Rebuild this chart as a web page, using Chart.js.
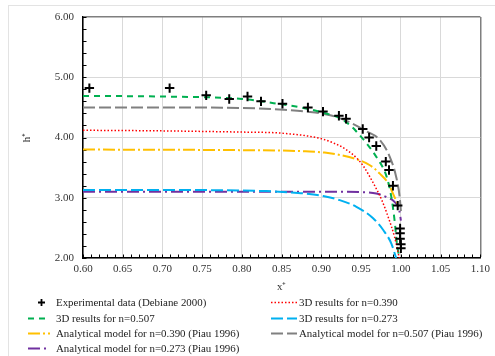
<!DOCTYPE html>
<html>
<head>
<meta charset="utf-8">
<script src="https://cdn.jsdelivr.net/npm/chart.js@4.4.0/dist/chart.umd.min.js"></script>
<style>
  html, body { margin: 0; padding: 0; background: #fff; }
  #wrap { position: relative; width: 495px; height: 356px; overflow: hidden; font-family: "Liberation Serif", "Times New Roman", serif; }
  #frame { position: absolute; left: 8px; top: 5px; width: 540px; height: 420px; border: 1.5px solid #e3e3e3; box-sizing: border-box; }
  #chart { position: absolute; left: 0; top: 0; }
  .item { position: absolute; height: 14px; font-size: 10.9px; line-height: 14px; white-space: nowrap; color: #222; }
  .item canvas { position: absolute; left: 0; top: 0; }
  .item span { position: absolute; top: 0; }
</style>
</head>
<body>
<div id="wrap">
  <div id="frame"></div>
  <canvas id="chart" width="495" height="356"></canvas>
  <div id="legend"></div>
</div>
<script>
// ========================================
// DATA
// ========================================

const xTicks = [0.60, 0.65, 0.70, 0.75, 0.80, 0.85, 0.90, 0.95, 1.00, 1.05, 1.10];
const yTicks = [2.00, 3.00, 4.00, 5.00, 6.00];

// Experimental data (Debiane 2000)
const expX = [0.608, 0.709, 0.755, 0.784, 0.807, 0.824, 0.851, 0.883, 0.902, 0.922, 0.931, 0.952, 0.960, 0.969, 0.981, 0.985, 0.990, 0.996, 0.999, 0.999, 0.999, 1.000, 1.000];
const expH = [4.82, 4.82, 4.70, 4.64, 4.68, 4.60, 4.56, 4.50, 4.43, 4.36, 4.31, 4.14, 4.00, 3.86, 3.60, 3.46, 3.20, 2.87, 2.49, 2.41, 2.32, 2.23, 2.16];

// 3D results n=0.390
const red3dX = [0.60, 0.70, 0.80, 0.84, 0.86, 0.88, 0.90, 0.915, 0.93, 0.945, 0.953, 0.965, 0.976, 0.984, 0.992, 0.998];
const red3dH = [4.12, 4.11, 4.09, 4.08, 4.06, 4.03, 3.98, 3.91, 3.81, 3.65, 3.52, 3.25, 2.96, 2.68, 2.35, 2.00];

// 3D results n=0.507
const green3dX = [0.60, 0.70, 0.80, 0.84, 0.87, 0.90, 0.923, 0.938, 0.946, 0.957, 0.969, 0.982, 0.988, 0.992, 0.995, 0.998];
const green3dH = [4.69, 4.68, 4.64, 4.57, 4.51, 4.42, 4.32, 4.18, 4.07, 3.90, 3.68, 3.35, 3.01, 2.63, 2.24, 2.00];

// 3D results n=0.273
const blue3dX = [0.60, 0.70, 0.80, 0.83, 0.86, 0.88, 0.902, 0.923, 0.944, 0.965, 0.978, 0.988, 0.994];
const blue3dH = [3.13, 3.13, 3.12, 3.11, 3.09, 3.07, 3.03, 2.96, 2.85, 2.66, 2.46, 2.24, 2.00];

// Analytical model n=0.390 (Piau 1996)
const yellowAnX = [0.60, 0.80, 0.86, 0.88, 0.904, 0.923, 0.944, 0.961, 0.9735, 0.984, 0.992, 0.996];
const yellowAnH = [3.80, 3.79, 3.78, 3.77, 3.75, 3.71, 3.64, 3.54, 3.40, 3.24, 3.01, 2.90];

// Analytical model n=0.507 (Piau 1996)
const grayAnX = [0.60, 0.70, 0.80, 0.852, 0.881, 0.911, 0.936, 0.957, 0.9735, 0.986, 0.994, 0.9985, 1.000];
const grayAnH = [4.50, 4.50, 4.49, 4.46, 4.43, 4.37, 4.25, 4.10, 3.96, 3.68, 3.35, 3.01, 2.78];

// Analytical model n=0.273 (Piau 1996)
const purpleAnX = [0.60, 0.80, 0.90, 0.93, 0.955, 0.969, 0.982, 0.992, 0.998, 1.000];
const purpleAnH = [3.10, 3.10, 3.10, 3.10, 3.09, 3.07, 3.01, 2.93, 2.79, 2.62];

const seriesLabels = [
    'Experimental data (Debiane 2000)',
    '3D results for n=0.390',
    '3D results for n=0.507',
    '3D results for n=0.273',
    'Analytical model for n=0.390 (Piau 1996)',
    'Analytical model for n=0.507 (Piau 1996)',
    'Analytical model for n=0.273 (Piau 1996)'
];

const toPoints = (xs, ys) => xs.map((x, i) => ({ x, y: ys[i] }));

// ========================================
// DATASETS
// ========================================

const lineSet = (label, xs, ys, color, dash, width) => ({
    label,
    data: toPoints(xs, ys),
    showLine: true,
    borderColor: color,
    backgroundColor: color,
    borderWidth: width,
    borderDash: dash,
    pointRadius: 0,
    cubicInterpolationMode: 'monotone',
    fill: false
});

const datasets = [
    {
        label: seriesLabels[0],
        data: toPoints(expX, expH),
        showLine: false,
        pointStyle: 'cross',
        pointRadius: 4.7,
        borderColor: '#000',
        backgroundColor: '#000',
        pointBorderWidth: 2,
        order: 0
    },
    lineSet(seriesLabels[1], red3dX, red3dH, '#ff0000', [1.5, 2], 1.5),
    lineSet(seriesLabels[2], green3dX, green3dH, '#00b050', [6, 5], 2),
    lineSet(seriesLabels[3], blue3dX, blue3dH, '#00b0f0', [12, 4], 2),
    lineSet(seriesLabels[4], yellowAnX, yellowAnH, '#ffc000', [12, 3, 2, 3], 2),
    lineSet(seriesLabels[5], grayAnX, grayAnH, '#808080', [12, 4], 2),
    lineSet(seriesLabels[6], purpleAnX, purpleAnH, '#7030a0', [12, 4, 2, 4], 2)
];

// ========================================
// MINOR TICKS PLUGIN
// ========================================

const minorTicks = {
    id: 'minorTicks',
    beforeDatasetsDraw(chart) {
        const { ctx, chartArea, scales: { x, y } } = chart;
        ctx.save();
        ctx.strokeStyle = '#000';
        ctx.lineWidth = 1;
        for (let i = 60; i <= 110; i++) {
            const px = Math.round(x.getPixelForValue(i / 100)) + 0.5;
            ctx.beginPath();
            ctx.moveTo(px, chartArea.bottom);
            ctx.lineTo(px, chartArea.bottom - 3.5);
            ctx.stroke();
        }
        for (let i = 10; i <= 30; i++) {
            const py = Math.round(y.getPixelForValue(i / 5)) + 0.5;
            ctx.beginPath();
            ctx.moveTo(chartArea.left, py);
            ctx.lineTo(chartArea.left + 3.5, py);
            ctx.stroke();
        }
        ctx.restore();
    }
};

// ========================================
// CHART
// ========================================

const tickFont = { family: '"Liberation Serif", "Times New Roman", serif', size: 11 };

new Chart(document.getElementById('chart'), {
    type: 'scatter',
    data: { datasets },
    plugins: [minorTicks],
    options: {
        responsive: false,
        animation: false,
        layout: { padding: { left: 0, top: 17, right: 14, bottom: 0 } },
        plugins: { legend: { display: false }, tooltip: { enabled: false } },
        scales: {
            x: {
                type: 'linear',
                min: 0.6,
                max: 1.1,
                afterBuildTicks: (scale) => { scale.ticks = xTicks.map(v => ({ value: v })); },
                afterFit: (scale) => { scale.height = 98; },
                ticks: {
                    font: tickFont,
                    color: '#333',
                    padding: 5,
                    maxRotation: 0,
                    callback: (v) => Number(v).toFixed(2)
                },
                grid: {
                    drawTicks: false,
                    color: (c) => (c.tick && Math.abs(c.tick.value - 1.1) < 1e-6 ? '#7f7f7f' : '#d9d9d9'),
                    lineWidth: (c) => (c.tick && Math.abs(c.tick.value - 1.1) < 1e-6 ? 1.5 : 1)
                },
                border: { color: '#000', width: 1.5 },
                title: {
                    display: true,
                    text: 'x⁺',
                    font: tickFont,
                    color: '#333',
                    padding: { top: 0, bottom: 62 }
                }
            },
            y: {
                type: 'linear',
                min: 2,
                max: 6,
                afterBuildTicks: (scale) => { scale.ticks = yTicks.map(v => ({ value: v })); },
                afterFit: (scale) => { scale.width = 83; },
                ticks: {
                    font: tickFont,
                    color: '#333',
                    padding: 9,
                    callback: (v) => Number(v).toFixed(2)
                },
                grid: {
                    drawTicks: false,
                    color: (c) => (c.tick && Math.abs(c.tick.value - 6) < 1e-6 ? '#7f7f7f' : '#d9d9d9'),
                    lineWidth: (c) => (c.tick && Math.abs(c.tick.value - 6) < 1e-6 ? 1.5 : 1)
                },
                border: { color: '#000', width: 1.5 },
                title: {
                    display: true,
                    text: 'h⁺',
                    font: tickFont,
                    color: '#333',
                    padding: { top: 21, bottom: 0 }
                }
            }
        }
    }
});

// ========================================
// LEGEND (two columns, like the reference)
// ========================================

const legendEl = document.getElementById('legend');
const colLeft = [28, 271];
const rowTop = [295, 311, 326, 341];

datasets.forEach((ds, i) => {
    const col = i % 2;
    const row = Math.floor(i / 2);
    const item = document.createElement('div');
    item.className = 'item';
    item.style.left = colLeft[col] + 'px';
    item.style.top = rowTop[row] + 'px';

    const sym = document.createElement('canvas');
    sym.width = 27;
    sym.height = 14;
    const c = sym.getContext('2d');
    c.strokeStyle = ds.borderColor;
    if (ds.pointStyle === 'cross') {
        c.lineWidth = 1.8;
        c.beginPath();
        c.moveTo(13.5, 4); c.lineTo(13.5, 11);
        c.moveTo(10, 7.5); c.lineTo(17, 7.5);
        c.stroke();
    } else {
        c.lineWidth = ds.borderWidth;
        c.setLineDash(ds.borderDash);
        c.beginPath();
        c.moveTo(0, 7.5);
        c.lineTo(col === 0 ? 22 : 26, 7.5);
        c.stroke();
    }
    item.appendChild(sym);

    const txt = document.createElement('span');
    txt.style.left = '28px';
    txt.textContent = ds.label;
    item.appendChild(txt);
    legendEl.appendChild(item);
});
</script>
</body>
</html>
